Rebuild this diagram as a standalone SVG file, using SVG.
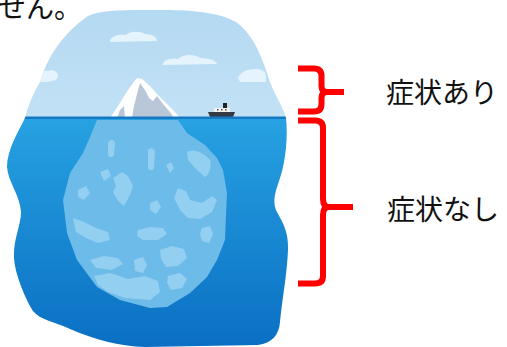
<svg xmlns="http://www.w3.org/2000/svg" width="507" height="347" viewBox="0 0 507 347">
  <style>
    .label { font-family: "Noto Sans CJK JP", "Noto Sans CJK SC", sans-serif; font-size: 28px; fill: #111111; }
    .brace { fill: none; stroke: #ff0000; stroke-width: 6; stroke-linejoin: round; stroke-linecap: butt; }
    .cloud { fill: #e4f3fc; }
    .patch { fill: #93cff1; }
  </style>
  <defs>
    <clipPath id="blobClip">
      <path d="M 40 82 C 47 58 62 34 88 16 C 102 9 132 10 162 10 C 196 10 220 13 236 22 C 255 36 263 60 270 82 C 275 96 283 106 286 118 C 288 135 286 160 280 178 C 276 190 272 200 276 210 C 281 220 289 230 288 250 C 287 275 282 300 280 322 C 279 335 272 343 258 345 L 145 347 C 118 346 96 340 70 329 C 55 322 40 320 33 311 C 26 300 15 275 14 258 C 13 240 21 225 21 212 C 20 195 8 182 7 167 C 7 150 18 132 25 118 C 28 105 33 94 40 82 Z"/>
    </clipPath>
    <linearGradient id="sea" x1="0" y1="118" x2="0" y2="347" gradientUnits="userSpaceOnUse">
      <stop offset="0" stop-color="#27a2e2"/>
      <stop offset="1" stop-color="#0a6fc3"/>
    </linearGradient>
    <linearGradient id="sky" x1="0" y1="10" x2="0" y2="118" gradientUnits="userSpaceOnUse">
      <stop offset="0" stop-color="#b4d9f2"/>
      <stop offset="1" stop-color="#c2e1f5"/>
    </linearGradient>
  </defs>

  <!-- sentence fragment at top-left -->
  <text class="label" x="-2" y="18">せん。</text>

  <!-- iceberg scene -->
  <g id="iceberg-scene" clip-path="url(#blobClip)">
    <rect x="0" y="0" width="300" height="119" fill="url(#sky)"/>
    <rect x="0" y="118" width="300" height="229" fill="url(#sea)"/>

    <!-- clouds -->
    <path class="cloud" d="M 110 40 C 112 35 120 34 126 35 C 130 31 140 31 145 34 C 152 34 157 37 157 41 L 110 42 Z"/>
    <path class="cloud" d="M 163 63 C 165 59 172 58 178 59 C 183 54 195 54 200 58 C 208 58 216 60 217 64 L 163 65 Z"/>
    <path class="cloud" d="M 30 80 C 32 73 40 70 48 71 C 53 69 58 72 58 76 C 58 80 52 82 40 82 Z"/>
    <path class="cloud" d="M 238 78 C 240 72 248 69 256 69 C 262 69 266 72 266 76 L 266 82 L 240 82 Z"/>

    <!-- visible tip of the iceberg -->
    <polygon fill="#ffffff" points="110,118 118,106 126,93 133,83 137,78 142,79 150,86 158,95 166,103 174,111 180,118"/>
    <polygon fill="#b9c7d9" points="140,83 145,90 149,98 153,101 157,96 163,104 170,112 174,118 132,118 134,106 137,94"/>
    <polygon fill="#b9c7d9" points="117,118 120,110 124,106 125,118"/>

    <!-- ship -->
    <g id="ship">
      <polygon fill="#333a44" points="208,112 235,112 233,117 210,117"/>
      <rect x="214" y="108" width="16" height="4" fill="#f2f2f2"/>
      <rect x="223" y="103" width="4" height="5" fill="#222222"/>
      <rect x="217" y="109" width="1.5" height="1.5" fill="#555"/>
      <rect x="221" y="109" width="1.5" height="1.5" fill="#555"/>
      <rect x="225" y="109" width="1.5" height="1.5" fill="#555"/>
    </g>

    <!-- horizon line -->
    <rect x="0" y="116.5" width="300" height="2.5" fill="#1678c2"/>

    <!-- submerged part of the iceberg -->
    <polygon fill="#6dbbe8" points="97,120 178,120 187,133 205,145 217,158 223,170 227,193 226,215 225,240 217,260 207,277 190,293 167,307 150,308 120,300 97,287 77,260 67,233 63,200 70,173 83,153 90,137"/>
    <g id="ice-patches">
      <path class="patch" d="M 108 143 C 109 139 114 139 115 143 L 114 155 C 113 158 109 158 108 155 Z"/>
      <path class="patch" d="M 148 150 C 150 147 155 148 155 152 L 154 168 C 153 171 149 171 148 168 Z"/>
      <path class="patch" d="M 187 152 C 193 148 203 152 210 160 C 212 167 209 175 205 177 C 199 172 193 166 188 160 Z"/>
      <path class="patch" d="M 100 172 L 108 169 L 111 176 L 104 181 Z"/>
      <path class="patch" d="M 113 178 L 122 172 L 128 176 L 133 186 L 130 195 L 124 206 L 118 201 L 113 192 L 116 186 Z"/>
      <path class="patch" d="M 166 165 L 171 162 L 174 168 L 170 173 Z"/>
      <path class="patch" d="M 78 190 L 86 186 L 90 193 L 84 200 L 78 197 Z"/>
      <path class="patch" d="M 150 203 L 157 200 L 161 207 L 156 214 L 150 210 Z"/>
      <path class="patch" d="M 178 188 L 186 191 L 190 200 L 202 203 L 212 196 L 217 200 L 212 212 L 200 219 L 188 218 L 180 210 L 174 198 Z"/>
      <path class="patch" d="M 73 218 L 84 222 L 96 228 L 108 232 L 110 240 L 98 243 L 86 238 L 76 232 Z"/>
      <path class="patch" d="M 138 230 L 150 227 L 163 228 L 167 234 L 158 240 L 143 240 L 137 236 Z"/>
      <path class="patch" d="M 202 228 L 210 226 L 213 234 L 209 243 L 202 241 L 200 234 Z"/>
      <path class="patch" d="M 90 260 L 104 256 L 118 258 L 123 264 L 112 270 L 96 268 Z"/>
      <path class="patch" d="M 160 250 L 172 246 L 184 249 L 187 258 L 178 266 L 166 267 L 161 259 Z"/>
      <path class="patch" d="M 134 260 L 143 257 L 147 265 L 143 273 L 135 271 Z"/>
      <path class="patch" d="M 94 276 L 110 273 L 128 279 L 145 276 L 158 281 L 160 292 L 150 300 L 125 298 L 108 292 L 98 285 Z"/>
      <path class="patch" d="M 168 276 L 180 273 L 187 279 L 182 288 L 171 290 L 167 283 Z"/>
    </g>
  </g>

  <!-- braces -->
  <g id="connectors">
    <path class="brace" d="M 298 68.5 L 314 68.5 Q 321.5 68.5 321.5 76 L 321.5 86 Q 321.5 92 327 92 L 344 92 M 327 92 Q 321.5 92 321.5 98 L 321.5 104 Q 321.5 111.5 314 111.5 L 298 111.5"/>
    <path class="brace" d="M 298 120.5 L 315 120.5 Q 323 120.5 323 128 L 323 199 Q 323 207 329 207 L 353 207 M 329 207 Q 323 207 323 215 L 323 276 Q 323 283.5 315 283.5 L 298 283.5"/>
  </g>

  <!-- labels -->
  <g id="label-symptomatic">
    <text class="label" x="386" y="103">症状あり</text>
  </g>
  <g id="label-asymptomatic">
    <text class="label" x="387" y="220">症状なし</text>
  </g>
</svg>
